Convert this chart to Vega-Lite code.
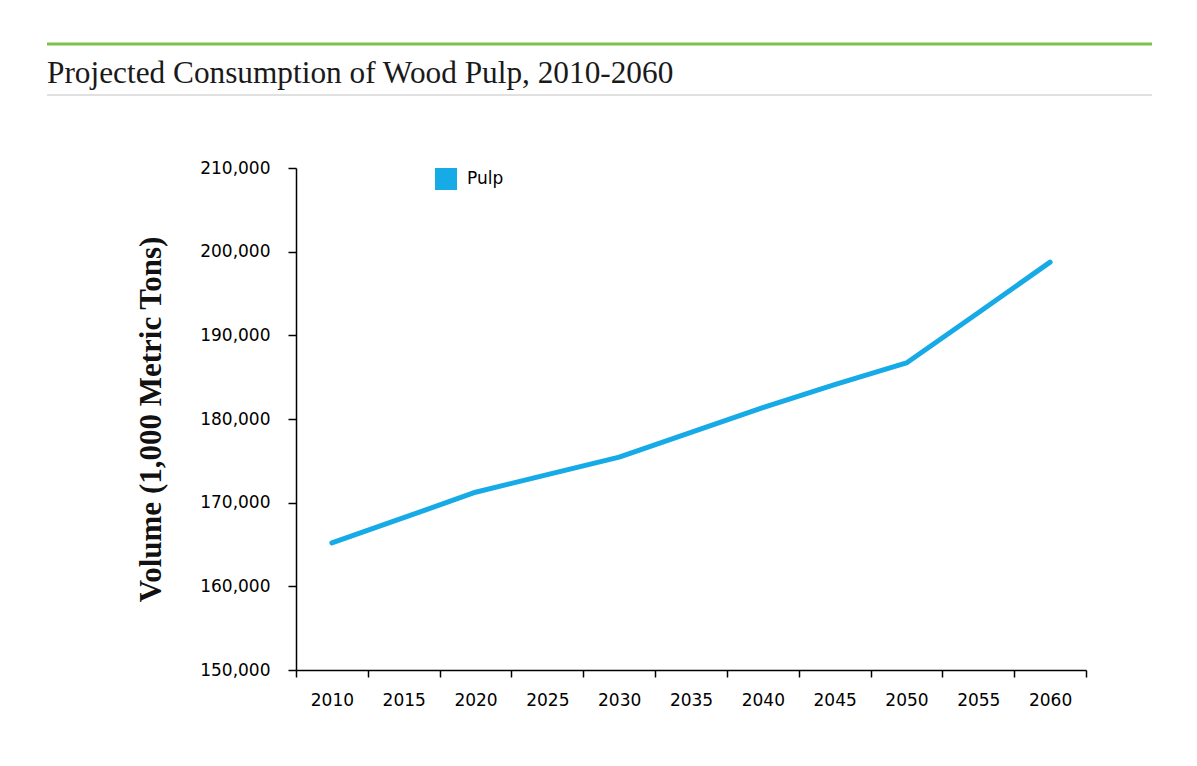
{
  "$schema": "https://vega.github.io/schema/vega-lite/v6.json",
  "background": "white",
  "padding": {"left": 45, "top": 42, "right": 0, "bottom": 0},
  "autosize": {"type": "pad"},
  "config": {"view": {"stroke": null}},
  "spacing": 63,
  "resolve": {"legend": {"color": "independent"}},
  "vconcat": [
    {
      "width": 1105,
      "height": 51,
      "data": {"values": [{"title": "Projected Consumption of Wood Pulp, 2010-2060"}]},
      "layer": [
        {
          "mark": {"type": "rule", "color": "#7cc24d", "strokeWidth": 3},
          "encoding": {
            "x": {"datum": 0, "type": "quantitative", "scale": {"domain": [0, 1]}, "axis": null},
            "x2": {"datum": 1},
            "y": {"datum": 1, "type": "quantitative", "scale": {"domain": [0, 1]}, "axis": null}
          }
        },
        {
          "mark": {"type": "rule", "color": "#c2c2c2", "strokeWidth": 1},
          "encoding": {
            "x": {"datum": 0, "type": "quantitative"},
            "x2": {"datum": 1},
            "y": {"datum": 0, "type": "quantitative"}
          }
        },
        {
          "mark": {"type": "text", "align": "left", "baseline": "alphabetic", "font": "Liberation Serif", "fontSize": 31.3, "color": "#1a1a1a"},
          "encoding": {
            "text": {"field": "title", "type": "nominal"},
            "x": {"datum": 0, "type": "quantitative"},
            "y": {"datum": 0.23, "type": "quantitative"}
          }
        }
      ]
    },
    {
      "spacing": 20,
      "resolve": {"legend": {"color": "independent"}},
      "hconcat": [
        {
          "width": 68,
          "height": 10,
          "data": {"values": []},
          "mark": "point",
          "encoding": {}
        },
        {
          "width": 790,
          "height": 502,
          "data": {
            "values": [
              {"year": "2010", "volume": 165200, "product": "Pulp"},
              {"year": "2015", "volume": 168200, "product": "Pulp"},
              {"year": "2020", "volume": 171250, "product": "Pulp"},
              {"year": "2025", "volume": 173350, "product": "Pulp"},
              {"year": "2030", "volume": 175450, "product": "Pulp"},
              {"year": "2035", "volume": 178400, "product": "Pulp"},
              {"year": "2040", "volume": 181350, "product": "Pulp"},
              {"year": "2045", "volume": 184100, "product": "Pulp"},
              {"year": "2050", "volume": 186700, "product": "Pulp"},
              {"year": "2055", "volume": 192700, "product": "Pulp"},
              {"year": "2060", "volume": 198750, "product": "Pulp"}
            ]
          },
          "mark": {"type": "line", "strokeWidth": 5, "strokeCap": "round", "strokeJoin": "round"},
          "encoding": {
            "x": {
              "field": "year",
              "type": "ordinal",
              "scale": {"type": "band", "paddingInner": 0, "paddingOuter": 0},
              "axis": {
                "title": null,
                "labelAngle": 0,
                "tickBand": "extent",
                "grid": false,
                "domainColor": "#000",
                "domainWidth": 1.5,
                "tickColor": "#000",
                "tickWidth": 1.5,
                "tickSize": 7,
                "labelFont": "DejaVu Sans",
                "labelFontSize": 17,
                "labelColor": "#000",
                "labelPadding": 15
              }
            },
            "y": {
              "field": "volume",
              "type": "quantitative",
              "scale": {"domain": [150000, 210000], "nice": false, "zero": false},
              "axis": {
                "values": [150000, 160000, 170000, 180000, 190000, 200000, 210000],
                "format": ",d",
                "title": "Volume (1,000 Metric Tons)",
                "titleFont": "Liberation Serif",
                "titleFontWeight": "bold",
                "titleFontSize": 31,
                "titleColor": "#111",
                "titlePadding": 32,
                "grid": false,
                "domainColor": "#000",
                "domainWidth": 1.5,
                "tickColor": "#000",
                "tickWidth": 1.5,
                "tickSize": 8,
                "labelFont": "DejaVu Sans",
                "labelFontSize": 17,
                "labelColor": "#000",
                "labelPadding": 18
              }
            },
            "color": {
              "field": "product",
              "type": "nominal",
              "scale": {"domain": ["Pulp"], "range": ["#16aae6"]},
              "legend": {
                "orient": "none",
                "legendX": 139,
                "legendY": 0,
                "title": null,
                "padding": 0,
                "symbolType": "square",
                "symbolSize": 484,
                "symbolFillColor": "#16aae6",
                "symbolStrokeColor": "#16aae6",
                "symbolStrokeWidth": 0,
                "labelFont": "DejaVu Sans",
                "labelFontSize": 17,
                "labelColor": "#000",
                "labelOffset": 10
              }
            }
          }
        }
      ]
    }
  ]
}
